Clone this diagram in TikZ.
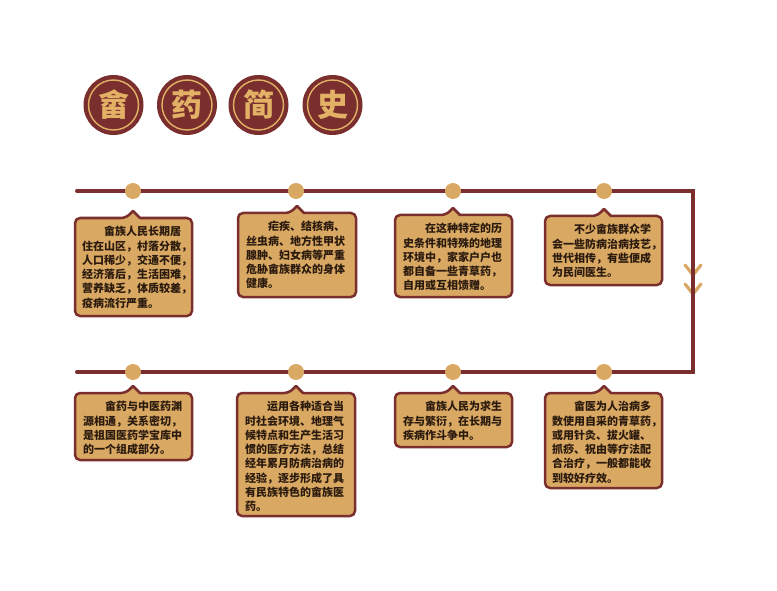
\documentclass[tikz,border=0pt]{standalone}
\usepackage{fontspec}
\newfontfamily\cjk{Noto Sans CJK SC}
\definecolor{maroon}{HTML}{7A2E2E}
\definecolor{gold}{HTML}{E2B165}
\definecolor{tan}{HTML}{D9A862}
\definecolor{ink}{HTML}{2B1A0E}
\tikzset{
  tline/.style={maroon, line width=4pt, line cap=round, line join=miter},
  dot/.style={circle, fill=tan, minimum size=16pt, inner sep=0pt},
  titlec/.style={circle, fill=maroon, minimum size=60pt, inner sep=0pt, text=gold, font=\cjk\bfseries\fontsize{31}{32}\selectfont},
  boxline/.style={draw=maroon, fill=tan, line width=2.5pt, line join=round},
  boxtext/.style={anchor=north west, inner sep=0pt, align=left, text=ink, font=\cjk\bfseries\fontsize{11}{14.3}\selectfont},
  chev/.style={tan, line width=3.2pt, line cap=round, line join=miter}
}
\newcommand\cbox[5]{%
  \draw[boxline] (#5-7,#3) -- (#5,#3-7) -- (#5+7,#3) [rounded corners=5pt] -- (#2,#3) -- (#2,#4) -- (#1,#4) -- (#1,#3) -- cycle;}
\begin{document}
\begin{tikzpicture}[x=1pt,y=-1pt]
\useasboundingbox[fill=white] (0,0) rectangle (777,591);
% title
\foreach \n/\x/\c in {1/113.5/畲,2/187/药,3/258.5/简,4/332.5/史}{
  \node[titlec] (c\n) at (\x,105) {\c};
  \draw[gold, line width=1.4pt] (c\n.center) circle[radius=25pt];
}
% chevrons
\coordinate (tl) at (77,191);
\coordinate (tr) at (693,191);
\coordinate (br) at (693,372);
\coordinate (bl) at (77,372);
\draw[chev] (685,265) -- (693,275) -- (701,265);
\draw[chev] (685,284) -- (693,294) -- (701,284);
\draw[tline] (tl) -- (tr) -- (br) -- (bl);
% dots
\foreach \n/\x in {1/133,2/296,3/453,4/604}{
  \node[dot] (d\n) at (\x,191) {};
  \node[dot] (e\n) at (\x,372) {};
}
% boxes
\cbox{75}{192}{218}{316}{133}
\node[boxtext] (t1) at (82,226) {\hspace*{2em}畲族人民长期居\\住在山区，村落分散，\\人口稀少，交通不便，\\经济落后，生活困难，\\营养缺乏，体质较差，\\疫病流行严重。};
\cbox{238}{356}{213}{297}{297}
\node[boxtext] (t2) at (246,221) {\hspace*{2em}疟疾、结核病、\\丝虫病、地方性甲状\\腺肿、妇女病等严重\\危胁畲族群众的身体\\健康。};
\cbox{395}{512}{215}{297}{453}
\node[boxtext] (t3) at (403,223) {\hspace*{2em}在这种特定的历\\史条件和特殊的地理\\环境中，家家户户也\\都自备一些青草药，\\自用或互相馈赠。};
\cbox{545}{662}{216}{285}{604}
\node[boxtext] (t4) at (552,224) {\hspace*{2em}不少畲族群众学\\会一些防病治病技艺，\\世代相传，有些便成\\为民间医生。};
\cbox{75}{192}{393}{460}{133}
\node[boxtext] (t5) at (83,401) {\hspace*{2em}畲药与中医药渊\\源相通，关系密切，\\是祖国医药学宝库中\\的一个组成部分。};
\cbox{237}{355}{393}{516}{296}
\node[boxtext] (t6) at (245,401) {\hspace*{2em}运用各种适合当\\时社会环境、地理气\\候特点和生产生活习\\惯的医疗方法，总结\\经年累月防病治病的\\经验，逐步形成了具\\有民族特色的畲族医\\药。};
\cbox{395}{512}{393}{447}{453}
\node[boxtext] (t7) at (403,401) {\hspace*{2em}畲族人民为求生\\存与繁衍，在长期与\\疾病作斗争中。};
\cbox{545}{662}{393}{488}{604}
\node[boxtext] (t8) at (552,401) {\hspace*{2em}畲医为人治病多\\数使用自采的青草药，\\或用针灸、拔火罐、\\抓痧、祝由等疗法配\\合治疗，一般都能收\\到较好疗效。};
\end{tikzpicture}
\end{document}
